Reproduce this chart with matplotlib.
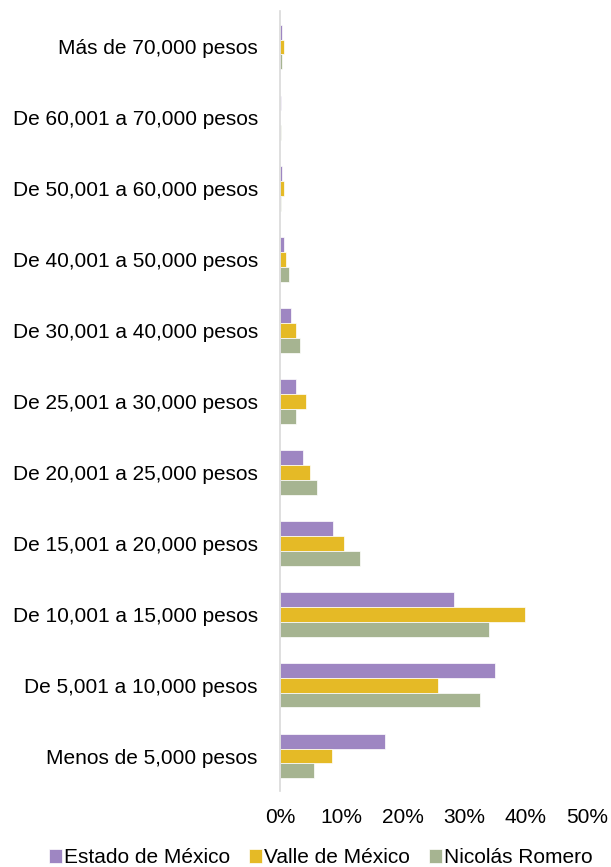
import matplotlib
matplotlib.use("Agg")
import matplotlib.pyplot as plt
import numpy as np
from matplotlib.ticker import FuncFormatter

plt.rcParams['font.family'] = ['Liberation Sans', 'DejaVu Sans']

categories = ["Más de 70,000 pesos", "De 60,001 a 70,000 pesos", "De 50,001 a 60,000 pesos",
              "De 40,001 a 50,000 pesos", "De 30,001 a 40,000 pesos", "De 25,001 a 30,000 pesos",
              "De 20,001 a 25,000 pesos", "De 15,001 a 20,000 pesos", "De 10,001 a 15,000 pesos",
              "De 5,001 a 10,000 pesos", "Menos de 5,000 pesos"]
series_names = ["Estado de México", "Valle de México", "Nicolás Romero"]
estado = [0.4, 0.1, 0.4, 0.6, 1.8, 2.6, 3.8, 8.7, 28.3, 35.0, 17.1]
valle = [0.6, 0.05, 0.6, 0.9, 2.6, 4.3, 4.9, 10.4, 39.9, 25.7, 8.4]
nicolas = [0.3, 0.1, 0.1, 1.5, 3.2, 2.6, 6.1, 13.0, 34.1, 32.6, 5.5]
xticks = [0, 10, 20, 30, 40, 50]

colors = ["#9E86C2", "#E5BA26", "#A6B491"]

fig = plt.figure(figsize=(6.11, 8.67), dpi=100)
ax = fig.add_axes([280/611, 1-791.5/867, 307/611, 780/867])

y = np.arange(len(categories))
h = 0.21
for i, (vals, c, name) in enumerate(zip([estado, valle, nicolas], colors, series_names)):
    ax.barh(y + (i-1)*h, vals, height=h, color=c, edgecolor='white', linewidth=0.5, label=name)

ax.set_ylim(len(categories)-0.5, -0.5)
ax.set_xlim(0, 50)
ax.set_yticks(y)
ax.set_yticklabels(categories, fontsize=15)
ax.set_xticks(xticks)
ax.xaxis.set_major_formatter(FuncFormatter(lambda v, p: f"{v:.0f}%"))
ax.tick_params(axis='x', labelsize=15, length=0, pad=12)
ax.tick_params(axis='y', length=0, pad=16)
for s in ['top', 'right', 'bottom']:
    ax.spines[s].set_visible(False)
ax.spines['left'].set_color('#D9D9D9')
ax.spines['left'].set_linewidth(1.2)

fig.legend(loc='lower center', bbox_to_anchor=(0.525, -0.022), ncol=3, frameon=False,
           fontsize=15, handlelength=0.62, handleheight=0.62, handletextpad=0.12, columnspacing=0.9)

fig.savefig("out.png", dpi=100)
